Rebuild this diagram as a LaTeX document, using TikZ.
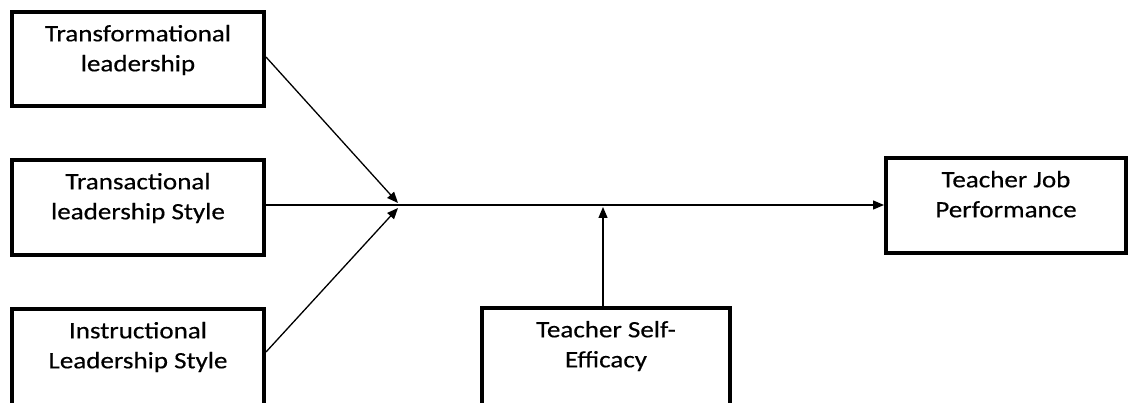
\documentclass[tikz,border=0pt]{standalone}
\usepackage{fontspec}
\setmainfont{Carlito}[FakeStretch=1.15,FakeBold=0.4]
\usetikzlibrary{arrows.meta,calc}
\newcommand\bxt[3]{\parbox[c][#1][t]{#2}{\vspace*{13pt}\centering #3\par}}
\begin{document}
\begin{tikzpicture}[x=1pt,y=-1pt,
  box/.style={draw,line width=4pt,inner sep=0pt,font=\fontsize{23.5}{30}\selectfont},
  conn/.style={line width=1.3pt,-{Triangle[length=11pt,width=9pt]}},
  plain/.style={line width=1.3pt}]
\useasboundingbox (0,0) rectangle (1128,403);
\clip (0,0) rectangle (1128,403);
\node[box] (b1) at (138,59) {\bxt{94pt}{252pt}{Transformational\\leadership}};
\node[box] (b2) at (138,207.5) {\bxt{95pt}{252pt}{Transactional\\leadership Style}};
\node[box] (b3) at (138,359) {\bxt{100pt}{252pt}{Instructional\\Leadership Style}};
\node[box] (b4) at (606,358) {\bxt{100pt}{248pt}{Teacher Self-\\Efficacy}};
\node[box] (b5) at (1006,205.5) {\bxt{95pt}{240pt}{Teacher Job\\Performance}};
\coordinate (J) at (398,205);
\coordinate (J1) at (398,203);
\coordinate (J3) at (398,208);
\draw[conn] ($(b1.east)+(0,-2)$) -- (J1);
\draw[conn] ($(b3.east)+(0,-7)$) -- (J3);
\draw[conn] (b2.east |- J) -- (b5.west |- J);
\draw[conn] ($(b4.north)+(-3,0)$) -- ($(b4.north |- J)+(-3,2)$);
\end{tikzpicture}
\end{document}
